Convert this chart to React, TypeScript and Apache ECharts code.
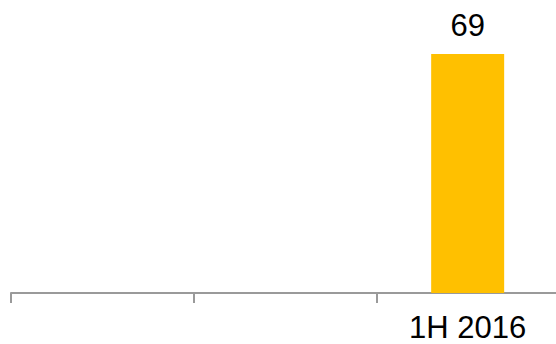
import React, { useEffect, useRef } from "react";
import * as echarts from "echarts";

const categories = ["", "", "1H 2016"];
const values: (number | null)[] = [null, null, 69];

export default function App() {
  const ref = useRef<HTMLDivElement>(null);
  useEffect(() => {
    if (!ref.current) return;
    const chart = echarts.init(ref.current, null, { renderer: "svg" });
    chart.setOption({
      animation: false,
      grid: { left: 11, width: 548, top: 16, height: 277, containLabel: false, outerBoundsMode: "none" },
      xAxis: {
        type: "category",
        data: categories,
        axisLine: { show: true, lineStyle: { color: "#9a9a9a", width: 2 } },
        axisTick: { show: true, length: 10, lineStyle: { color: "#9a9a9a", width: 2 } },
        axisLabel: {
          color: "#000",
          fontSize: 31,
          fontFamily: "Liberation Sans, Arial, sans-serif",
          margin: 19,
          interval: 0,
        },
      },
      yAxis: {
        type: "value",
        min: 0,
        max: 80,
        show: false,
        splitLine: { show: false },
      },
      series: [
        {
          type: "bar",
          data: values,
          barWidth: 73,
          itemStyle: { color: "#FFC000" },
          label: {
            show: true,
            position: "top",
            distance: 13,
            color: "#000",
            fontSize: 31,
            fontFamily: "Liberation Sans, Arial, sans-serif",
          },
        },
      ],
    });
    return () => chart.dispose();
  }, []);
  return <div ref={ref} style={{ width: 556, height: 344, position: "absolute", left: 0, top: 0 }} />;
}
